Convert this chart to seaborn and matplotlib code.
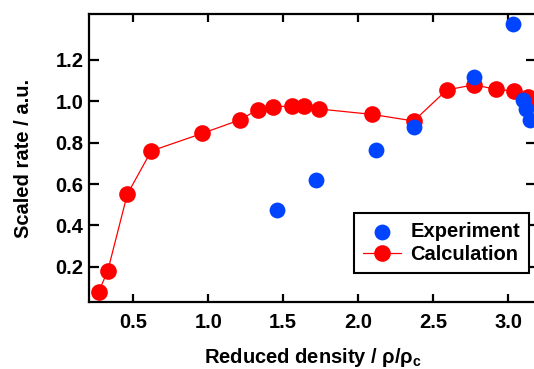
import matplotlib
matplotlib.use("Agg")
import matplotlib.pyplot as plt
import seaborn as sns
import pandas as pd

calc_x = [0.27, 0.33, 0.46, 0.62, 0.96, 1.21, 1.33, 1.43, 1.56, 1.64, 1.74, 2.09, 2.37, 2.59, 2.77, 2.92, 3.04, 3.13, 3.18]
calc_y = [0.08, 0.18, 0.55, 0.76, 0.845, 0.91, 0.96, 0.973, 0.978, 0.978, 0.963, 0.937, 0.905, 1.055, 1.08, 1.058, 1.05, 1.022, 1.0]

exp_x = [1.46, 1.72, 2.12, 2.37, 2.77, 3.03, 3.10, 3.12, 3.145]
exp_y = [0.474, 0.62, 0.765, 0.877, 1.119, 1.373, 1.005, 0.965, 0.91]

calc = pd.DataFrame({"x": calc_x, "y": calc_y})
exp = pd.DataFrame({"x": exp_x, "y": exp_y})

sns.set_style("ticks")
plt.rcParams["font.family"] = ["Liberation Sans", "DejaVu Sans"]
plt.rcParams["font.weight"] = "bold"
plt.rcParams["text.color"] = "black"
plt.rcParams["axes.labelcolor"] = "black"
plt.rcParams["xtick.color"] = "black"
plt.rcParams["ytick.color"] = "black"
plt.rcParams["mathtext.fontset"] = "custom"
plt.rcParams["mathtext.bf"] = "Liberation Sans:bold"
plt.rcParams["mathtext.rm"] = "Liberation Sans:bold"

fig = plt.figure(figsize=(5.34, 3.69), dpi=100)
ax = fig.add_axes([89/534, 1 - 302.3/369, (536 - 89)/534, (302.3 - 14.3)/369])

red = "#ff0000"
blue = "#0044ff"

sns.lineplot(data=calc, x="x", y="y", ax=ax, color=red, linewidth=0.9,
             marker="o", markersize=12, markeredgewidth=0, estimator=None,
             sort=False, label="Calculation")
sns.scatterplot(data=exp, x="x", y="y", ax=ax, color=blue, s=130,
                linewidth=0, label="Experiment", zorder=3)

ax.set_xlim(0.205, 3.185)
ax.set_ylim(0.028, 1.421)
ax.set_xticks([0.5, 1.0, 1.5, 2.0, 2.5, 3.0])
ax.set_xticklabels(["0.5", "1.0", "1.5", "2.0", "2.5", "3.0"])
ax.set_yticks([0.2, 0.4, 0.6, 0.8, 1.0, 1.2])
ax.set_yticklabels(["0.2", "0.4", "0.6", "0.8", "1.0", "1.2"])

for s in ax.spines.values():
    s.set_linewidth(1.6)
    s.set_color("black")
    s.set_visible(True)

ax.tick_params(axis="both", direction="in", width=1.6, color="black",
               labelcolor="black", labelsize=14.5, top=True, right=True)
ax.tick_params(axis="x", length=6, pad=8)
ax.tick_params(axis="y", length=7, pad=4)
for lab in ax.get_xticklabels() + ax.get_yticklabels():
    lab.set_fontweight("bold")

ax.set_xlabel(r"Reduced density / ρ/ρ$_\mathbf{c}$", fontsize=14.5, fontweight="bold",
              labelpad=10, color="black")
ax.set_ylabel("Scaled rate / a.u.", fontsize=14.5, fontweight="bold",
              labelpad=16, color="black")

h, l = ax.get_legend_handles_labels()
order = [l.index("Experiment"), l.index("Calculation")]
leg = ax.legend([h[i] for i in order], [l[i] for i in order],
                loc="lower right", bbox_to_anchor=(0.984, 0.1017),
                fancybox=False, framealpha=1, edgecolor="black",
                prop={"size": 14.5, "weight": "bold"}, handlelength=1.9,
                borderpad=0.45, labelspacing=0.2, handletextpad=0.45,
                borderaxespad=0, labelcolor="black")
leg.get_frame().set_linewidth(1.5)

fig.savefig("out.png", dpi=100)
